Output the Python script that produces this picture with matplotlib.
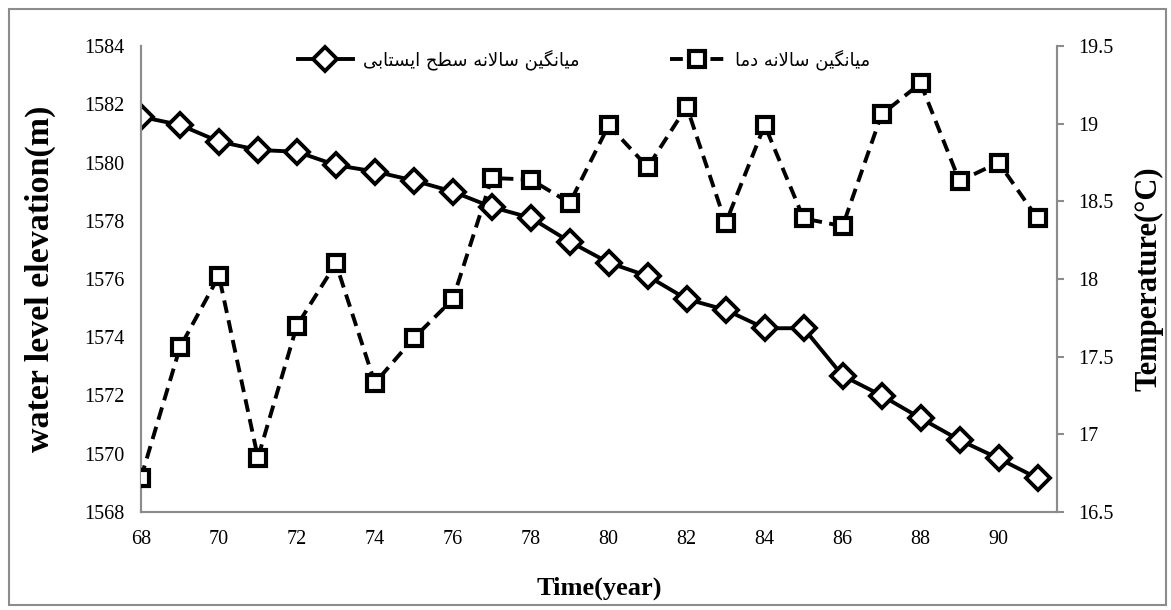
import matplotlib
matplotlib.use("Agg")
import matplotlib.pyplot as plt
from matplotlib.patches import Rectangle

# ---------------- data ----------------
years = list(range(68, 92))
water_level = [1581.57, 1581.29, 1580.72, 1580.43, 1580.37, 1579.91, 1579.69, 1579.38,
               1579.00, 1578.47, 1578.10, 1577.28, 1576.56, 1576.10, 1575.31, 1574.94,
               1574.31, 1574.31, 1572.68, 1572.00, 1571.22, 1570.47, 1569.84, 1569.16]
temperature = [16.72, 17.56, 18.02, 16.85, 17.70, 18.10, 17.33, 17.62,
               17.87, 18.65, 18.64, 18.49, 18.99, 18.72, 19.11, 18.36,
               18.99, 18.39, 18.34, 19.06, 19.26, 18.63, 18.75, 18.39]
x_ticks = list(range(68, 92, 2))
left_ticks = list(range(1568, 1585, 2))
right_ticks = [16.5, 17, 17.5, 18, 18.5, 19, 19.5]
label_water = "میانگین سالانه سطح ایستابی"
label_temp = "میانگین سالانه دما"

# ---------------- simple Persian shaping (matplotlib has no shaping) ----------------
FORMS = {  # isolated, final, initial, medial
    'ا': ('\uFE8D', '\uFE8E', None, None),
    'ب': ('\uFE8F', '\uFE90', '\uFE91', '\uFE92'),
    'ت': ('\uFE95', '\uFE96', '\uFE97', '\uFE98'),
    'ح': ('\uFEA1', '\uFEA2', '\uFEA3', '\uFEA4'),
    'د': ('\uFEA9', '\uFEAA', None, None),
    'س': ('\uFEB1', '\uFEB2', '\uFEB3', '\uFEB4'),
    'ط': ('\uFEC1', '\uFEC2', '\uFEC3', '\uFEC4'),
    'ل': ('\uFEDD', '\uFEDE', '\uFEDF', '\uFEE0'),
    'م': ('\uFEE1', '\uFEE2', '\uFEE3', '\uFEE4'),
    'ن': ('\uFEE5', '\uFEE6', '\uFEE7', '\uFEE8'),
    'ه': ('\uFEE9', '\uFEEA', '\uFEEB', '\uFEEC'),
    'ی': ('\uFBFC', '\uFBFD', '\uFBFE', '\uFBFF'),
    'گ': ('\uFB92', '\uFB93', '\uFB94', '\uFB95'),
    'LA': ('\uFEFB', '\uFEFC', None, None),
}


def shape(text):
    chars = []
    i = 0
    while i < len(text):
        if text[i] == 'ل' and i + 1 < len(text) and text[i + 1] == 'ا':
            chars.append('LA')
            i += 2
        else:
            chars.append(text[i])
            i += 1
    out = []
    for k, c in enumerate(chars):
        if c not in FORMS:
            out.append(c)
            continue
        f = FORMS[c]
        prev = chars[k - 1] if k > 0 else None
        nxt = chars[k + 1] if k + 1 < len(chars) else None
        jp = prev in FORMS and FORMS[prev][2] is not None
        jn = nxt in FORMS and f[2] is not None
        if jp and jn:
            g = f[3]
        elif jp:
            g = f[1]
        elif jn:
            g = f[2]
        else:
            g = f[0]
        out.append(g)
    return ''.join(reversed(out))


# ---------------- figure ----------------
plt.rcParams['font.family'] = ['Liberation Serif', 'DejaVu Serif']
fig = plt.figure(figsize=(11.71, 6.10), dpi=100)
fig.patches.append(Rectangle((9 / 1171, 5 / 610), 1157 / 1171, 596 / 610,
                             transform=fig.transFigure, fill=False,
                             edgecolor='#8c8c8c', linewidth=1.5))

ax = fig.add_axes([141 / 1171, 1 - 512 / 610, 916 / 1171, 466 / 610])
ax2 = ax.twinx()

gray = '#8c8c8c'
l1, = ax.plot(years, water_level, color='black', linewidth=2.8, marker='D',
              markersize=12.5, markerfacecolor='white', markeredgecolor='black',
              markeredgewidth=2.8, label=shape(label_water), zorder=3)
l2, = ax2.plot(years, temperature, color='black', linewidth=2.8, linestyle=(0, (3.3, 1.9)),
               marker='s', markersize=11, markerfacecolor='white', markeredgecolor='black',
               markeredgewidth=3.0, label=shape(label_temp), zorder=3)

ax.set_xlim(68, 91.5)
ax.set_ylim(1568, 1584)
ax2.set_ylim(16.5, 19.5)
ax.set_xticks(x_ticks)
ax.set_yticks(left_ticks)
ax2.set_yticks(right_ticks)
ax2.set_yticklabels([f"{v:g}" for v in right_ticks])

for a in (ax, ax2):
    a.spines['top'].set_visible(False)
    for s in ('left', 'right', 'bottom'):
        a.spines[s].set_color(gray)
        a.spines[s].set_linewidth(1.5)

ax.tick_params(axis='x', length=0, pad=13, labelsize=14.5)
ax.tick_params(axis='y', length=0, pad=12, labelsize=14.5)
ax2.tick_params(axis='y', length=5, width=1.5, color=gray, direction='out', pad=10, labelsize=14.5)

ax.set_xlabel('Time(year)', fontsize=19, fontweight='bold', labelpad=20)
ax.set_ylabel('water level elevation(m)', fontsize=24.5, fontweight='bold', labelpad=20)
ax2.set_ylabel('Temperature(°C)', fontsize=22, fontweight='bold', labelpad=15)

leg = ax.legend(handles=[l1, l2], ncol=2, loc='center', bbox_to_anchor=(0.484, 0.97),
                frameon=False, handlelength=3.0, columnspacing=5.0, handletextpad=0.6,
                prop={'family': 'DejaVu Sans', 'size': 13})

fig.savefig('out.png', dpi=100)
